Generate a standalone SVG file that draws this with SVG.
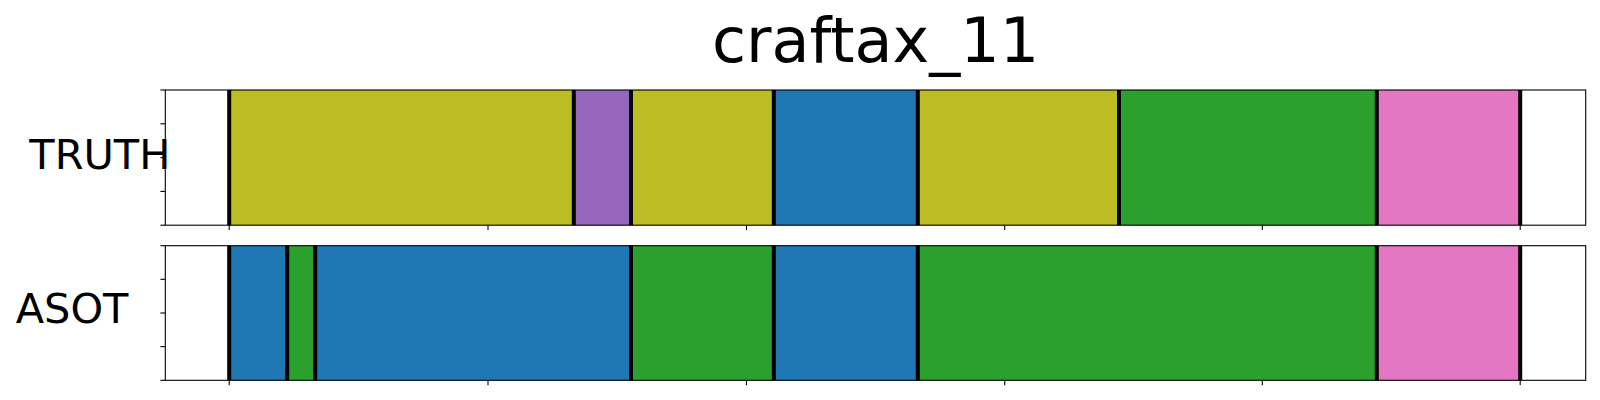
<svg xmlns="http://www.w3.org/2000/svg" width="1600" height="400" viewBox="0 0 1600 400">
<style>
text{font-family:"DejaVu Sans","Liberation Sans",sans-serif;fill:#000}
.olive{fill:#bcbd22}.purple{fill:#9467bd}.blue{fill:#1f77b4}.green{fill:#2ca02c}.pink{fill:#e377c2}
.bd{stroke:#000;stroke-width:4}
.spine{fill:none;stroke:#000;stroke-width:1.1}
.tick{stroke:#000;stroke-width:1.1}
</style>
<rect width="1600" height="400" fill="#fff"/>
<text x="875.5" y="62.3" font-size="62" text-anchor="middle">craftax_11</text>
<g id="truth">
<rect x="165.3" y="90" width="1420.4" height="135.2" fill="#fff"/>
<rect class="olive" x="229.2" y="90" width="344.6" height="135.2"/>
<rect class="purple" x="573.8" y="90" width="57.2" height="135.2"/>
<rect class="olive" x="631" y="90" width="142.8" height="135.2"/>
<rect class="blue" x="773.8" y="90" width="144" height="135.2"/>
<rect class="olive" x="917.8" y="90" width="201.2" height="135.2"/>
<rect class="green" x="1119" y="90" width="257.8" height="135.2"/>
<rect class="pink" x="1376.8" y="90" width="143.4" height="135.2"/>
<g class="bd">
<line x1="229.2" y1="90" x2="229.2" y2="225.2"/>
<line x1="573.8" y1="90" x2="573.8" y2="225.2"/>
<line x1="631" y1="90" x2="631" y2="225.2"/>
<line x1="773.8" y1="90" x2="773.8" y2="225.2"/>
<line x1="917.8" y1="90" x2="917.8" y2="225.2"/>
<line x1="1119" y1="90" x2="1119" y2="225.2"/>
<line x1="1376.8" y1="90" x2="1376.8" y2="225.2"/>
<line x1="1520.2" y1="90" x2="1520.2" y2="225.2"/>
</g>
<rect class="spine" x="165.3" y="90" width="1420.4" height="135.2"/>
<g class="tick">
<line x1="160.4" y1="90" x2="165.3" y2="90"/>
<line x1="160.4" y1="123.8" x2="165.3" y2="123.8"/>
<line x1="160.4" y1="157.6" x2="165.3" y2="157.6"/>
<line x1="160.4" y1="191.4" x2="165.3" y2="191.4"/>
<line x1="160.4" y1="225.2" x2="165.3" y2="225.2"/>
<line x1="229.2" y1="225.2" x2="229.2" y2="230.1"/>
<line x1="488" y1="225.2" x2="488" y2="230.1"/>
<line x1="746.5" y1="225.2" x2="746.5" y2="230.1"/>
<line x1="1004.7" y1="225.2" x2="1004.7" y2="230.1"/>
<line x1="1262.3" y1="225.2" x2="1262.3" y2="230.1"/>
<line x1="1520.2" y1="225.2" x2="1520.2" y2="230.1"/>
</g>
<text x="29.3" y="169.3" font-size="41.5">TRUTH</text>
</g>
<g id="asot">
<rect x="165.3" y="245.7" width="1420.4" height="134.6" fill="#fff"/>
<rect class="blue" x="229.2" y="245.7" width="58" height="134.6"/>
<rect class="green" x="287.2" y="245.7" width="28" height="134.6"/>
<rect class="blue" x="315.2" y="245.7" width="315.8" height="134.6"/>
<rect class="green" x="631" y="245.7" width="142.8" height="134.6"/>
<rect class="blue" x="773.8" y="245.7" width="144" height="134.6"/>
<rect class="green" x="917.8" y="245.7" width="459" height="134.6"/>
<rect class="pink" x="1376.8" y="245.7" width="143.4" height="134.6"/>
<g class="bd">
<line x1="229.2" y1="245.7" x2="229.2" y2="380.3"/>
<line x1="287.2" y1="245.7" x2="287.2" y2="380.3"/>
<line x1="315.2" y1="245.7" x2="315.2" y2="380.3"/>
<line x1="631" y1="245.7" x2="631" y2="380.3"/>
<line x1="773.8" y1="245.7" x2="773.8" y2="380.3"/>
<line x1="917.8" y1="245.7" x2="917.8" y2="380.3"/>
<line x1="1376.8" y1="245.7" x2="1376.8" y2="380.3"/>
<line x1="1520.2" y1="245.7" x2="1520.2" y2="380.3"/>
</g>
<rect class="spine" x="165.3" y="245.7" width="1420.4" height="134.6"/>
<g class="tick">
<line x1="160.4" y1="245.7" x2="165.3" y2="245.7"/>
<line x1="160.4" y1="279.3" x2="165.3" y2="279.3"/>
<line x1="160.4" y1="313" x2="165.3" y2="313"/>
<line x1="160.4" y1="346.6" x2="165.3" y2="346.6"/>
<line x1="160.4" y1="380.3" x2="165.3" y2="380.3"/>
<line x1="229.2" y1="380.3" x2="229.2" y2="385.2"/>
<line x1="488" y1="380.3" x2="488" y2="385.2"/>
<line x1="746.5" y1="380.3" x2="746.5" y2="385.2"/>
<line x1="1004.7" y1="380.3" x2="1004.7" y2="385.2"/>
<line x1="1262.3" y1="380.3" x2="1262.3" y2="385.2"/>
<line x1="1520.2" y1="380.3" x2="1520.2" y2="385.2"/>
</g>
<text x="15.7" y="323.3" font-size="41.5">ASOT</text>
</g>
</svg>
